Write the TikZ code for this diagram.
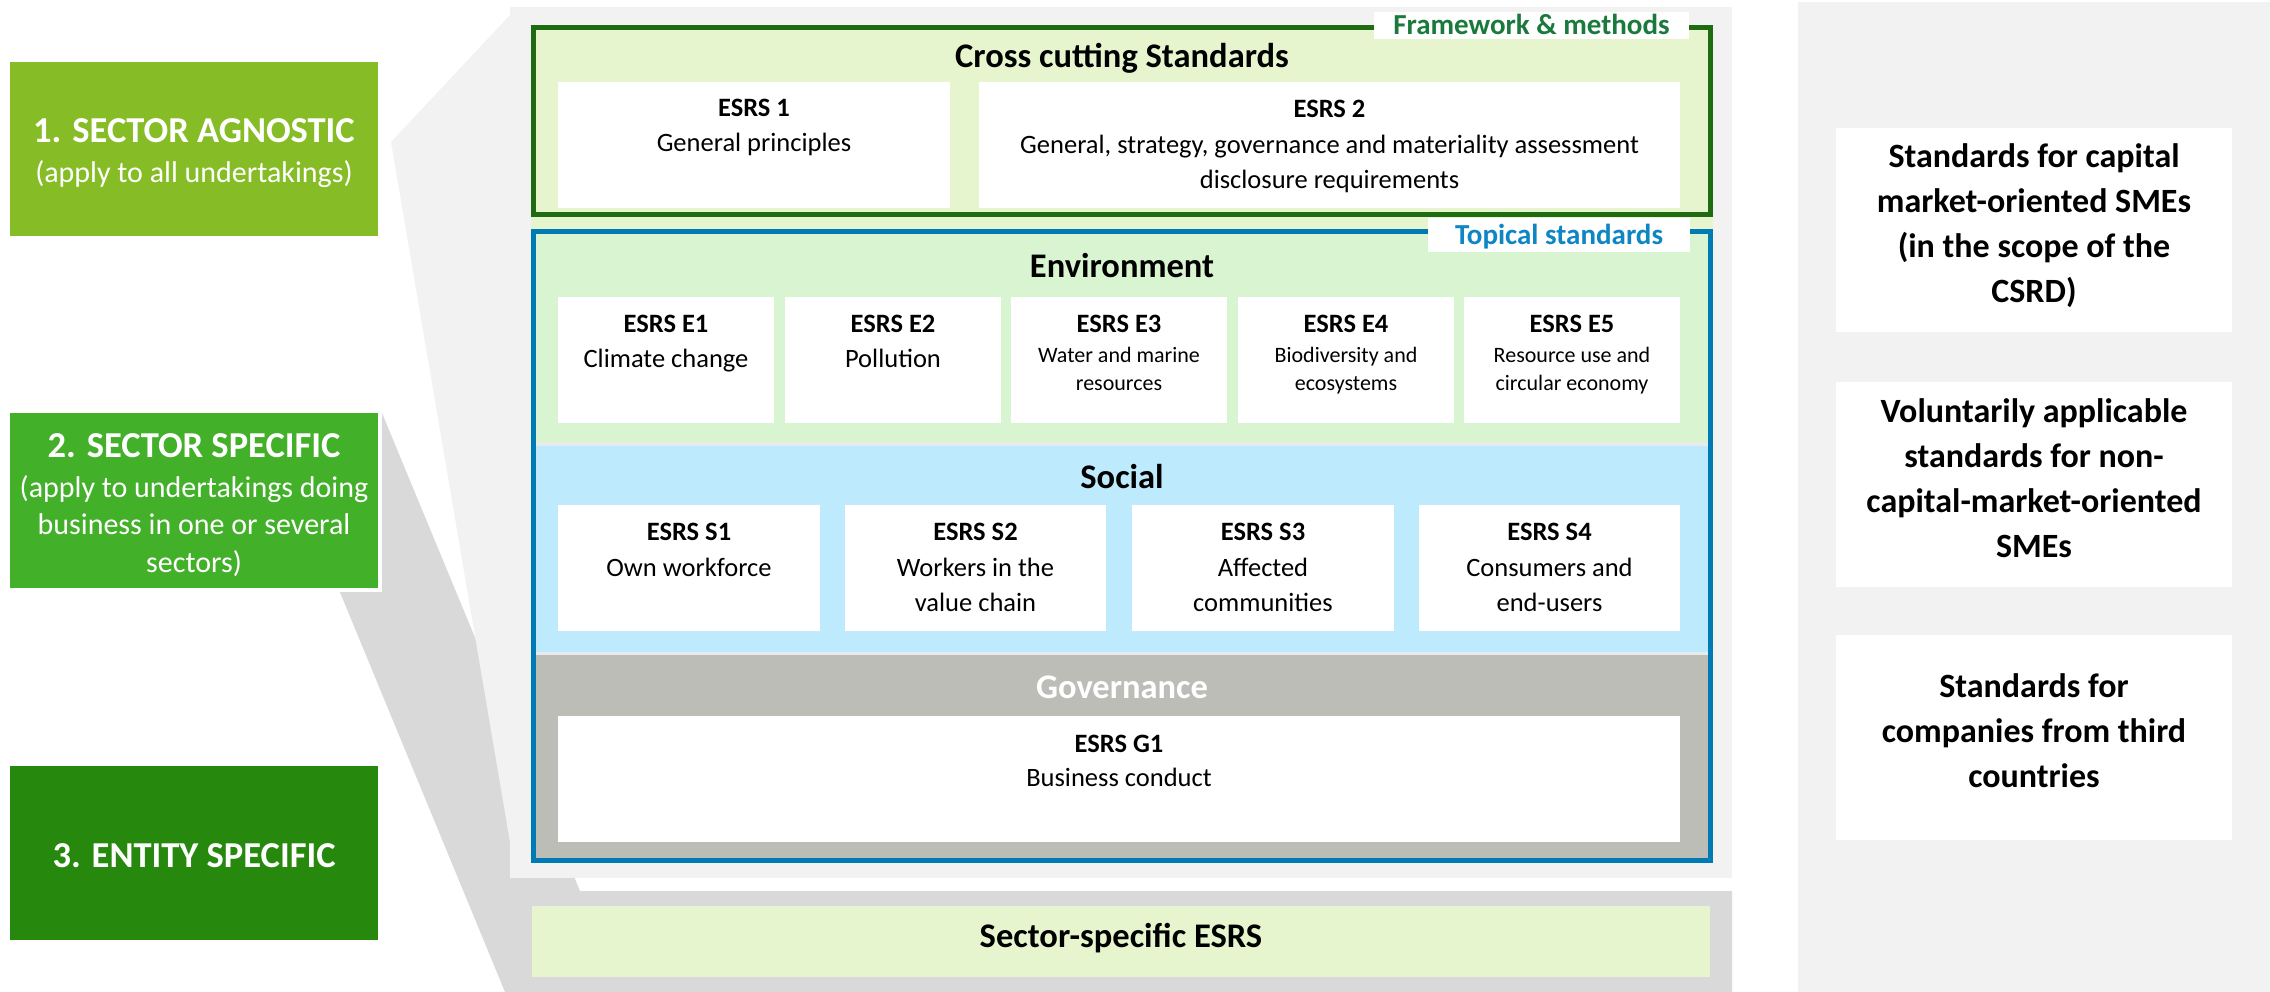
\documentclass[tikz,border=0pt]{standalone}
\usepackage{fontspec}
\setmainfont{Carlito}
\definecolor{gLime}{HTML}{86BC25}
\definecolor{gMid}{HTML}{43B02A}
\definecolor{gDark}{HTML}{26890D}
\definecolor{panelGrey}{HTML}{F2F2F2}
\definecolor{bandGrey}{HTML}{D9D9D9}
\definecolor{fwGreen}{HTML}{1F6B12}
\definecolor{fwText}{HTML}{1A7A3C}
\definecolor{fwFill}{HTML}{E6F5CE}
\definecolor{tpBlue}{HTML}{007AB2}
\definecolor{tpText}{HTML}{0E86C4}
\definecolor{envFill}{HTML}{D8F4D0}
\definecolor{socFill}{HTML}{BDEAFC}
\definecolor{govFill}{HTML}{BDBDB8}
\definecolor{sepLine}{HTML}{E6EBEC}
\newcommand\mybox[6]{\node[rectnode,#2,minimum width={(#5-#3)*1pt},minimum height={(#6-#4)*1pt}] (#1) at ({(#3+#5)/2},{(#4+#6)/2}) {};}
\newcommand\myStrut[1]{\rule{0pt}{#1pt}}
\tikzset{
 rectnode/.style={rectangle,inner sep=0pt,outer sep=0pt,draw=none},
 txt/.style={inner sep=0pt,outer sep=0pt,align=center},
 lefttitle/.style={txt,text=white,font=\fontsize{36.5}{44}\selectfont\bfseries},
 leftsub/.style={txt,text=white,font=\fontsize{30}{37.5}\selectfont},
 sectitle/.style={txt,font=\fontsize{34.5}{42}\selectfont\bfseries},
 tag/.style={txt,font=\fontsize{29}{35}\selectfont\bfseries},
 esrs/.style={txt,font=\fontsize{26.5}{35}\selectfont\bfseries},
 desc/.style={txt,font=\fontsize{26.5}{35}\selectfont},
 descsm/.style={txt,font=\fontsize{22}{28.5}\selectfont},
 righttxt/.style={txt,font=\fontsize{34}{45}\selectfont\bfseries},
}
\begin{document}
\begin{tikzpicture}[x=1pt,y=-1pt]
\path[use as bounding box] (0,0) rectangle (2270,992);
% right panel
\mybox{rpanel}{fill=panelGrey}{1798}{2}{2270}{992}
% dark band (sector specific callout)
\fill[bandGrey] (266,413) -- (382,413) -- (580,891) -- (1732,891) -- (1732,992) -- (505,992) -- cycle;
% light panel + callout
\mybox{lpanel}{fill=panelGrey}{510}{7}{1732}{878}
\fill[panelGrey] (510,15) -- (391,142) -- (510,842) -- cycle;
% left boxes
\mybox{sa}{fill=gLime}{9.6}{62}{378}{236}
\mybox{ssframe}{fill=white}{5.6}{409}{382}{592}
\mybox{ss}{fill=gMid}{9.6}{413}{378}{588}
\mybox{es}{fill=gDark}{9.6}{766}{378}{940}
\node[lefttitle,anchor=base] (saT) at (194,143) {1. SECTOR AGNOSTIC};
\node[leftsub,anchor=base] (saS) at (194,183) {(apply to all undertakings)};
\node[lefttitle,anchor=base] (ssT) at (194,457) {2. SECTOR SPECIFIC};
\node[leftsub,anchor=north] (ssS) at (194,473) {\myStrut{24}(apply to undertakings doing\\business in one or several\\sectors)};
\node[lefttitle,anchor=base] (esT) at (194,867) {3. ENTITY SPECIFIC};
% framework area
\mybox{fwfill}{fill=fwFill}{531}{25}{1713}{232}
\mybox{fw}{draw=fwGreen,line width=5pt}{533.5}{27.5}{1710.5}{214.5}
\node[sectitle,anchor=base] (ccT) at (1122,68) {Cross cutting Standards};
\mybox{b1}{fill=white}{558}{82}{950}{208}
\node[esrs,anchor=base] (b1L) at (754,117) {ESRS 1};
\node[desc,anchor=base] (b1D) at (754,152) {General principles};
\mybox{b2}{fill=white}{979}{82}{1680}{208}
\node[esrs,anchor=base] (b2L) at (1329.5,118) {ESRS 2};
\node[desc,anchor=north] (b2D) at (1329.5,130) {\myStrut{24}General, strategy, governance and materiality assessment\\disclosure requirements};
% topical area
\mybox{env}{fill=envFill}{536}{234}{1708}{442}
\mybox{sep1}{fill=sepLine}{536}{442}{1708}{446}
\mybox{soc}{fill=socFill}{536}{446}{1708}{652}
\mybox{sep2}{fill=sepLine}{536}{652}{1708}{655}
\mybox{gov}{fill=govFill}{536}{655}{1708}{858}
\mybox{tp}{draw=tpBlue,line width=5pt}{533.5}{231.5}{1710.5}{860.5}
% tags
\mybox{fwtagbox}{fill=white}{1374}{12}{1689}{39}
\node[tag,text=fwText,anchor=base] (fwtag) at (1531.5,35) {Framework \& methods};
\mybox{tptagbox}{fill=white}{1428}{218}{1690}{252}
\node[tag,text=tpText,anchor=base] (tptag) at (1559,245) {Topical standards};
% environment
\node[sectitle,anchor=base] (envT) at (1122,278) {Environment};
\mybox{e1}{fill=white}{558}{297}{774}{423}
\mybox{e2}{fill=white}{785}{297}{1001}{423}
\mybox{e3}{fill=white}{1011}{297}{1227}{423}
\mybox{e4}{fill=white}{1238}{297}{1454}{423}
\mybox{e5}{fill=white}{1464}{297}{1680}{423}
\node[esrs,anchor=base] (e1L) at (666,332) {ESRS E1};
\node[desc,anchor=base] (e1D) at (666,367) {Climate change};
\node[esrs,anchor=base] (e2L) at (893,332) {ESRS E2};
\node[desc,anchor=base] (e2D) at (893,367) {Pollution};
\node[esrs,anchor=base] (e3L) at (1119,332) {ESRS E3};
\node[descsm,anchor=north] (e3D) at (1119,342) {\myStrut{20}Water and marine\\resources};
\node[esrs,anchor=base] (e4L) at (1346,332) {ESRS E4};
\node[descsm,anchor=north] (e4D) at (1346,342) {\myStrut{20}Biodiversity and\\ecosystems};
\node[esrs,anchor=base] (e5L) at (1572,332) {ESRS E5};
\node[descsm,anchor=north] (e5D) at (1572,342) {\myStrut{20}Resource use and\\circular economy};
% social
\node[sectitle,anchor=base] (socT) at (1122,488) {Social};
\mybox{s1}{fill=white}{558}{505}{820}{631}
\mybox{s2}{fill=white}{845}{505}{1106}{631}
\mybox{s3}{fill=white}{1132}{505}{1394}{631}
\mybox{s4}{fill=white}{1419}{505}{1680}{631}
\node[esrs,anchor=base] (s1L) at (689,540) {ESRS S1};
\node[desc,anchor=base] (s1D) at (689,576) {Own workforce};
\node[esrs,anchor=base] (s2L) at (975.5,540) {ESRS S2};
\node[desc,anchor=north] (s2D) at (975.5,552) {\myStrut{24}Workers in the\\value chain};
\node[esrs,anchor=base] (s3L) at (1263,540) {ESRS S3};
\node[desc,anchor=north] (s3D) at (1263,552) {\myStrut{24}Affected\\communities};
\node[esrs,anchor=base] (s4L) at (1549.5,540) {ESRS S4};
\node[desc,anchor=north] (s4D) at (1549.5,552) {\myStrut{24}Consumers and\\end-users};
% governance
\node[sectitle,text=white,anchor=base] (govT) at (1122,698) {Governance};
\mybox{g1}{fill=white}{558}{716}{1680}{842}
\node[esrs,anchor=base] (g1L) at (1119,752) {ESRS G1};
\node[desc,anchor=base] (g1D) at (1119,786) {Business conduct};
% sector specific bar
\mybox{sector}{fill=fwFill}{532}{906}{1710}{977}
\node[sectitle,anchor=base] (sectorT) at (1121,947) {Sector-specific ESRS};
% right boxes
\mybox{r1}{fill=white}{1836}{128}{2232}{332}
\mybox{r2}{fill=white}{1836}{382}{2232}{587}
\mybox{r3}{fill=white}{1836}{635}{2232}{840}
\node[righttxt,anchor=north] (r1T) at (2034,142) {\myStrut{26}Standards for capital\\market-oriented SMEs\\(in the scope of the\\CSRD)};
\node[righttxt,anchor=north] (r2T) at (2034,396) {\myStrut{26}Voluntarily applicable\\standards for non-\\capital-market-oriented\\SMEs};
\node[righttxt,anchor=north] (r3T) at (2034,671) {\myStrut{26}Standards for\\companies from third\\countries};
\end{tikzpicture}
\end{document}
